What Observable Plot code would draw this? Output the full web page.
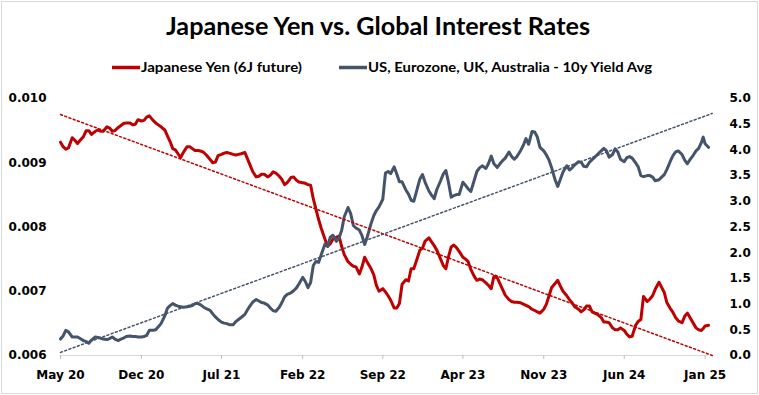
<!DOCTYPE html>
<html>
<head>
<meta charset="utf-8">
<script src="https://cdn.jsdelivr.net/npm/d3@7"></script>
<script src="https://cdn.jsdelivr.net/npm/@observablehq/plot@0.6"></script>
<style>
  html, body { margin: 0; padding: 0; background: #fff; }
  #wrap { position: relative; width: 759px; height: 395px; overflow: hidden; background: #fff; }
  #frame { position: absolute; left: 1px; top: 1px; width: 757px; height: 393px; box-sizing: border-box; border: 1px solid #d9d9d9; pointer-events: none; }
  #header { display: block; }
  #chart svg { display: block; }
</style>
</head>
<body>
<div id="wrap">
  <svg id="header" width="759" height="80"></svg>
  <div id="chart"></div>
  <div id="frame"></div>
</div>
<script>
const title = "Japanese Yen vs. Global Interest Rates";
const seriesNames = ["Japanese Yen (6J future)", "US, Eurozone, UK, Australia - 10y Yield Avg"];
const seriesColors = ["#C00000", "#44546A"];

const dates = [
"2020-05-01","2020-05-08","2020-05-15","2020-05-22","2020-06-01","2020-06-08","2020-06-15","2020-06-22",
"2020-07-01","2020-07-08","2020-07-15","2020-07-22","2020-08-01","2020-08-08","2020-08-15","2020-08-22",
"2020-09-01","2020-09-08","2020-09-15","2020-09-22","2020-10-01","2020-10-08","2020-10-15","2020-10-22",
"2020-11-01","2020-11-08","2020-11-15","2020-11-22","2020-12-01","2020-12-08","2020-12-15","2020-12-22",
"2021-01-01","2021-01-08","2021-01-15","2021-01-22","2021-02-01","2021-02-08","2021-02-15","2021-02-22",
"2021-03-01","2021-03-08","2021-03-15","2021-03-22","2021-04-01","2021-04-08","2021-04-15","2021-04-22",
"2021-05-01","2021-05-08","2021-05-15","2021-05-22","2021-06-01","2021-06-08","2021-06-15","2021-06-22",
"2021-07-01","2021-07-08","2021-07-15","2021-07-22","2021-08-01","2021-08-08","2021-08-15","2021-08-22",
"2021-09-01","2021-09-08","2021-09-15","2021-09-22","2021-10-01","2021-10-08","2021-10-15","2021-10-22",
"2021-11-01","2021-11-08","2021-11-15","2021-11-22","2021-12-01","2021-12-08","2021-12-15","2021-12-22",
"2022-01-01","2022-01-08","2022-01-15","2022-01-22","2022-02-01","2022-02-08","2022-02-15","2022-02-22",
"2022-03-01","2022-03-08","2022-03-15","2022-03-22","2022-04-01","2022-04-08","2022-04-15","2022-04-22",
"2022-05-01","2022-05-08","2022-05-15","2022-05-22","2022-06-01","2022-06-08","2022-06-15","2022-06-22",
"2022-07-01","2022-07-08","2022-07-15","2022-07-22","2022-08-01","2022-08-08","2022-08-15","2022-08-22",
"2022-09-01","2022-09-08","2022-09-15","2022-09-22","2022-10-01","2022-10-08","2022-10-15","2022-10-22",
"2022-11-01","2022-11-08","2022-11-15","2022-11-22","2022-12-01","2022-12-08","2022-12-15","2022-12-22",
"2023-01-01","2023-01-08","2023-01-15","2023-01-22","2023-02-01","2023-02-08","2023-02-15","2023-02-22",
"2023-03-01","2023-03-08","2023-03-15","2023-03-22","2023-04-01","2023-04-08","2023-04-15","2023-04-22",
"2023-05-01","2023-05-08","2023-05-15","2023-05-22","2023-06-01","2023-06-08","2023-06-15","2023-06-22",
"2023-07-01","2023-07-08","2023-07-15","2023-07-22","2023-08-01","2023-08-08","2023-08-15","2023-08-22",
"2023-09-01","2023-09-08","2023-09-15","2023-09-22","2023-10-01","2023-10-08","2023-10-15","2023-10-22",
"2023-11-01","2023-11-08","2023-11-15","2023-11-22","2023-12-01","2023-12-08","2023-12-15","2023-12-22",
"2024-01-01","2024-01-08","2024-01-15","2024-01-22","2024-02-01","2024-02-08","2024-02-15","2024-02-22",
"2024-03-01","2024-03-08","2024-03-15","2024-03-22","2024-04-01","2024-04-08","2024-04-15","2024-04-22",
"2024-05-01","2024-05-08","2024-05-15","2024-05-22","2024-06-01","2024-06-08","2024-06-15","2024-06-22",
"2024-07-01","2024-07-08","2024-07-15","2024-07-22","2024-08-01","2024-08-08","2024-08-15","2024-08-22",
"2024-09-01","2024-09-08","2024-09-15","2024-09-22","2024-10-01","2024-10-08","2024-10-15","2024-10-22",
"2024-11-01","2024-11-08","2024-11-15","2024-11-22","2024-12-01","2024-12-08","2024-12-15","2024-12-22",
"2024-12-27","2025-01-01","2025-01-10"
];

const yen = [
0.00932,0.00925,0.00921,0.00923, 0.00939,0.00935,0.00930,0.00935,
0.00941,0.00950,0.00950,0.00944, 0.00949,0.00951,0.00949,0.00949,
0.00956,0.00954,0.00949,0.00950, 0.00955,0.00958,0.00961,0.00962,
0.00962,0.00959,0.00960,0.00967, 0.00965,0.00966,0.00971,0.00973,
0.00966,0.00962,0.00959,0.00956, 0.00951,0.00942,0.00933,0.00922,
0.00920,0.00914,0.00908,0.00916, 0.00925,0.00925,0.00922,0.00919,
0.00919,0.00918,0.00916,0.00912, 0.00905,0.00900,0.00901,0.00911,
0.00913,0.00915,0.00916,0.00915, 0.00913,0.00912,0.00913,0.00914,
0.00916,0.00906,0.00896,0.00886, 0.00878,0.00879,0.00882,0.00882,
0.00878,0.00881,0.00886,0.00884, 0.00879,0.00874,0.00866,0.00869,
0.00877,0.00878,0.00873,0.00870, 0.00869,0.00868,0.00866,0.00865,
0.00844,0.00828,0.00812,0.00798, 0.00781,0.00770,0.00774,0.00781,
0.00784,0.00786,0.00770,0.00757, 0.00746,0.00742,0.00739,0.00738,
0.00727,0.00738,0.00753,0.00745, 0.00735,0.00726,0.00709,0.00700,
0.00704,0.00699,0.00693,0.00686, 0.00674,0.00674,0.00681,0.00711,
0.00718,0.00716,0.00735,0.00735, 0.00751,0.00764,0.00767,0.00778,
0.00783,0.00777,0.00771,0.00764, 0.00750,0.00740,0.00735,0.00754,
0.00769,0.00772,0.00768,0.00762, 0.00753,0.00750,0.00746,0.00734,
0.00723,0.00717,0.00719,0.00718, 0.00713,0.00709,0.00704,0.00723,
0.00721,0.00712,0.00703,0.00694, 0.00687,0.00684,0.00683,0.00683,
0.00682,0.00680,0.00678,0.00676, 0.00672,0.00670,0.00668,0.00666,
0.00672,0.00680,0.00693,0.00706, 0.00712,0.00717,0.00708,0.00700,
0.00693,0.00687,0.00682,0.00676, 0.00672,0.00668,0.00671,0.00677,
0.00677,0.00668,0.00666,0.00664, 0.00659,0.00652,0.00652,0.00651,
0.00643,0.00640,0.00640,0.00643, 0.00639,0.00633,0.00629,0.00630,
0.00647,0.00653,0.00656,0.00692, 0.00684,0.00688,0.00693,0.00703,
0.00714,0.00706,0.00698,0.00682, 0.00673,0.00667,0.00659,0.00654,
0.00651,0.00661,0.00666,0.00659, 0.00650,0.00643,0.00640,0.00639,
0.00642,0.00646,0.00647
];

const yields = [
0.32,0.38,0.49,0.46, 0.36,0.36,0.36,0.33,
0.29,0.27,0.24,0.30, 0.36,0.35,0.34,0.32,
0.31,0.33,0.36,0.32, 0.29,0.32,0.34,0.37,
0.38,0.37,0.37,0.36, 0.36,0.37,0.39,0.49,
0.49,0.50,0.56,0.62, 0.77,0.92,0.97,1.01,
0.98,0.96,0.95,0.94, 0.95,0.96,0.97,1.01,
1.01,0.98,0.94,0.91, 0.88,0.81,0.75,0.70,
0.65,0.63,0.62,0.60, 0.60,0.66,0.70,0.74,
0.80,0.89,0.97,1.04, 1.09,1.06,1.03,1.02,
0.98,0.92,0.87,0.86, 0.94,1.03,1.14,1.19,
1.22,1.26,1.31,1.39, 1.52,1.44,1.32,1.42,
1.75,1.83,1.81,1.96, 2.17,2.12,2.30,2.34,
2.22,2.28,2.43,2.70, 2.88,2.76,2.53,2.48,
2.44,2.33,2.16,2.31, 2.57,2.72,2.82,2.89,
3.04,3.55,3.58,3.54, 3.67,3.53,3.38,3.38,
3.22,3.14,3.02,3.00, 3.24,3.43,3.52,3.37,
3.20,3.12,3.05,3.23, 3.40,3.53,3.60,3.36,
3.08,3.11,3.13,3.13, 3.37,3.31,3.24,3.19,
3.41,3.58,3.65,3.69, 3.64,3.74,3.88,3.73,
3.66,3.73,3.79,3.84, 3.96,3.87,3.82,3.87,
3.99,4.09,4.22,4.11, 4.36,4.35,4.25,4.05,
3.98,3.90,3.80,3.65, 3.42,3.29,3.43,3.57,
3.69,3.61,3.65,3.71, 3.77,3.76,3.68,3.67,
3.76,3.81,3.86,3.91, 3.98,4.03,3.98,3.86,
3.91,4.02,3.96,3.82, 3.77,3.85,3.87,3.84,
3.75,3.67,3.50,3.48, 3.50,3.50,3.47,3.40,
3.42,3.47,3.52,3.62, 3.78,3.89,3.96,3.98,
3.91,3.80,3.73,3.81, 3.90,3.98,4.03,4.14,
4.25,4.12,4.05
];

// dotted trend lines at their two ends
const trendDates = ["2020-05-01", "2025-01-20"];
const yenTrend = [0.00975, 0.00600];
const yieldTrend = [0.06, 4.71];

const yenTicks = [0.006, 0.007, 0.008, 0.009, 0.010];
const yieldTicks = [0, 0.5, 1, 1.5, 2, 2.5, 3, 3.5, 4, 4.5, 5];
const xTickDates = ["2020-05-01","2020-12-01","2021-07-01","2022-02-01","2022-09-01","2023-04-01","2023-11-01","2024-06-01","2025-01-01"];
const xTickLabels = ["May 20","Dec 20","Jul 21","Feb 22","Sep 22","Apr 23","Nov 23","Jun 24","Jan 25"];
const xDomain = ["2020-05-01", "2025-01-10"];
const yenDomain = [0.006, 0.010];
const yieldDomain = [0, 5];

// map the right-axis (yield) values onto the left-axis (yen) scale
const toLeft = d3.scaleLinear(yieldDomain, yenDomain);

const yenRows = dates.map((d, i) => ({date: new Date(d), value: yen[i]}));
const yieldRows = dates.map((d, i) => ({date: new Date(d), value: toLeft(yields[i])}));
const yenTrendRows = trendDates.map((d, i) => ({date: new Date(d), value: yenTrend[i]}));
const yieldTrendRows = trendDates.map((d, i) => ({date: new Date(d), value: toLeft(yieldTrend[i])}));
const xTicks = xTickDates.map(d => new Date(d));

// Header: title and legend
const header = d3.select("#header");
header.append("text")
  .attr("x", 166).attr("y", 35)
  .attr("font-family", "Lato, 'Open Sans', sans-serif")
  .attr("font-weight", "bold").attr("font-size", 24)
  .attr("fill", "#000")
  .attr("textLength", 424).attr("lengthAdjust", "spacingAndGlyphs")
  .text(title);
const legendItems = [
  {x0: 112, x1: 140, tx: 141, tw: 161},
  {x0: 339, x1: 367, tx: 368, tw: 284}
];
legendItems.forEach((it, i) => {
  header.append("line")
    .attr("x1", it.x0).attr("x2", it.x1).attr("y1", 67.5).attr("y2", 67.5)
    .attr("stroke", seriesColors[i]).attr("stroke-width", 3.5);
  header.append("text")
    .attr("x", it.tx).attr("y", 72)
    .attr("font-family", "Lato, 'Open Sans', sans-serif")
    .attr("font-weight", "bold").attr("font-size", 14)
    .attr("fill", "#000")
    .attr("textLength", it.tw).attr("lengthAdjust", "spacingAndGlyphs")
    .text(seriesNames[i]);
});

const chart = Plot.plot({
  width: 759,
  height: 315,
  marginTop: 18,
  marginBottom: 40,
  marginLeft: 60,
  marginRight: 51,
  style: {fontFamily: "'DejaVu Sans', Verdana, sans-serif", fontSize: "12px", fontWeight: "bold", color: "#000", background: "transparent"},
  x: {type: "utc", domain: xDomain.map(d => new Date(d))},
  y: {domain: yenDomain},
  marks: [
    Plot.ruleY([yenDomain[0]], {stroke: "#d9d9d9", strokeWidth: 1}),
    Plot.axisX(xTicks, {tickSize: 4, tickPadding: 11, stroke: "#bfbfbf", fill: "#000",
      tickFormat: d => xTickLabels[xTickDates.indexOf(d.toISOString().slice(0, 10))], label: null}),
    Plot.axisY(yenTicks, {anchor: "left", tickSize: 0, tickPadding: 14, fill: "#000",
      tickFormat: d => d.toFixed(3), label: null}),
    Plot.axisY(yieldTicks.map(toLeft), {anchor: "right", tickSize: 0, tickPadding: 21, fill: "#000",
      tickFormat: d => toLeft.invert(d).toFixed(1), label: null}),
    Plot.lineY(yenRows, {x: "date", y: "value", stroke: seriesColors[0], strokeWidth: 3, strokeLinejoin: "round"}),
    Plot.lineY(yieldRows, {x: "date", y: "value", stroke: seriesColors[1], strokeWidth: 3, strokeLinejoin: "round"}),
    Plot.line(yenTrendRows, {x: "date", y: "value", stroke: seriesColors[0], strokeWidth: 1.5, strokeDasharray: "2,2.5"}),
    Plot.line(yieldTrendRows, {x: "date", y: "value", stroke: seriesColors[1], strokeWidth: 1.5, strokeDasharray: "2,2.5"})
  ]
});
document.getElementById("chart").appendChild(chart);
</script>
</body>
</html>
